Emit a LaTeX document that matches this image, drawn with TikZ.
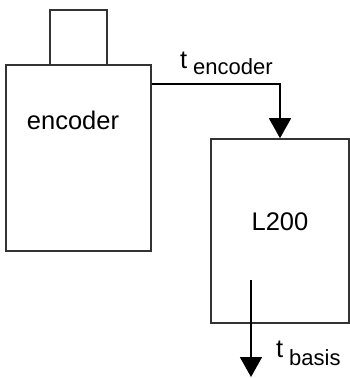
\documentclass[tikz,border=0pt]{standalone}
\usepackage{fontspec}
\setmainfont{Liberation Sans}
\usepackage{tikz}
\usetikzlibrary{arrows.meta, positioning}
\definecolor{blockline}{HTML}{333333}
\tikzset{
  blockbox/.style={draw=blockline, line width=1.6pt, fill=white, inner sep=0pt},
  flow/.style={-{Triangle[width=22pt, length=20pt]}, line width=1.6pt, draw=black},
  lbl/.style={font=\fontsize{25.5}{30}\selectfont, inner sep=0pt, text=black},
  sublbl/.style={font=\fontsize{22}{26}\selectfont, inner sep=0pt, text=black},
}
\begin{document}
\begin{tikzpicture}[x=1pt, y=-1pt]
  \useasboundingbox (0,0) rectangle (350,378);
  % blocks
  \node[blockbox, minimum width=57pt, minimum height=55pt] (cap) at (78.5,37.5) {};
  \node[blockbox, minimum width=145pt, minimum height=186pt] (encoder) at (78.5,158) {};
  \node[blockbox, minimum width=138pt, minimum height=184pt] (l200) at (280,231) {};
  % texts
  \node[lbl] (enctext) at (73,120) {encoder};
  \node[lbl] (l200text) at (280,222) {L200};
  \node[lbl, anchor=base west] (tenc) at (180,68) {t};
  \node[sublbl, anchor=base west] (tencsub) at (193,74) {encoder};
  \node[lbl, anchor=base west] (tbas) at (276,357) {t};
  \node[sublbl, anchor=base west] (tbassub) at (289,365) {basis};
  % connectors
  \coordinate (basisin) at (251,280);
  \coordinate (basisout) at (251,377);
  \draw[flow] ([yshift=-20pt]encoder.north east) -| (l200.north);
  \draw[flow] (basisin) -- (basisout);
\end{tikzpicture}
\end{document}
